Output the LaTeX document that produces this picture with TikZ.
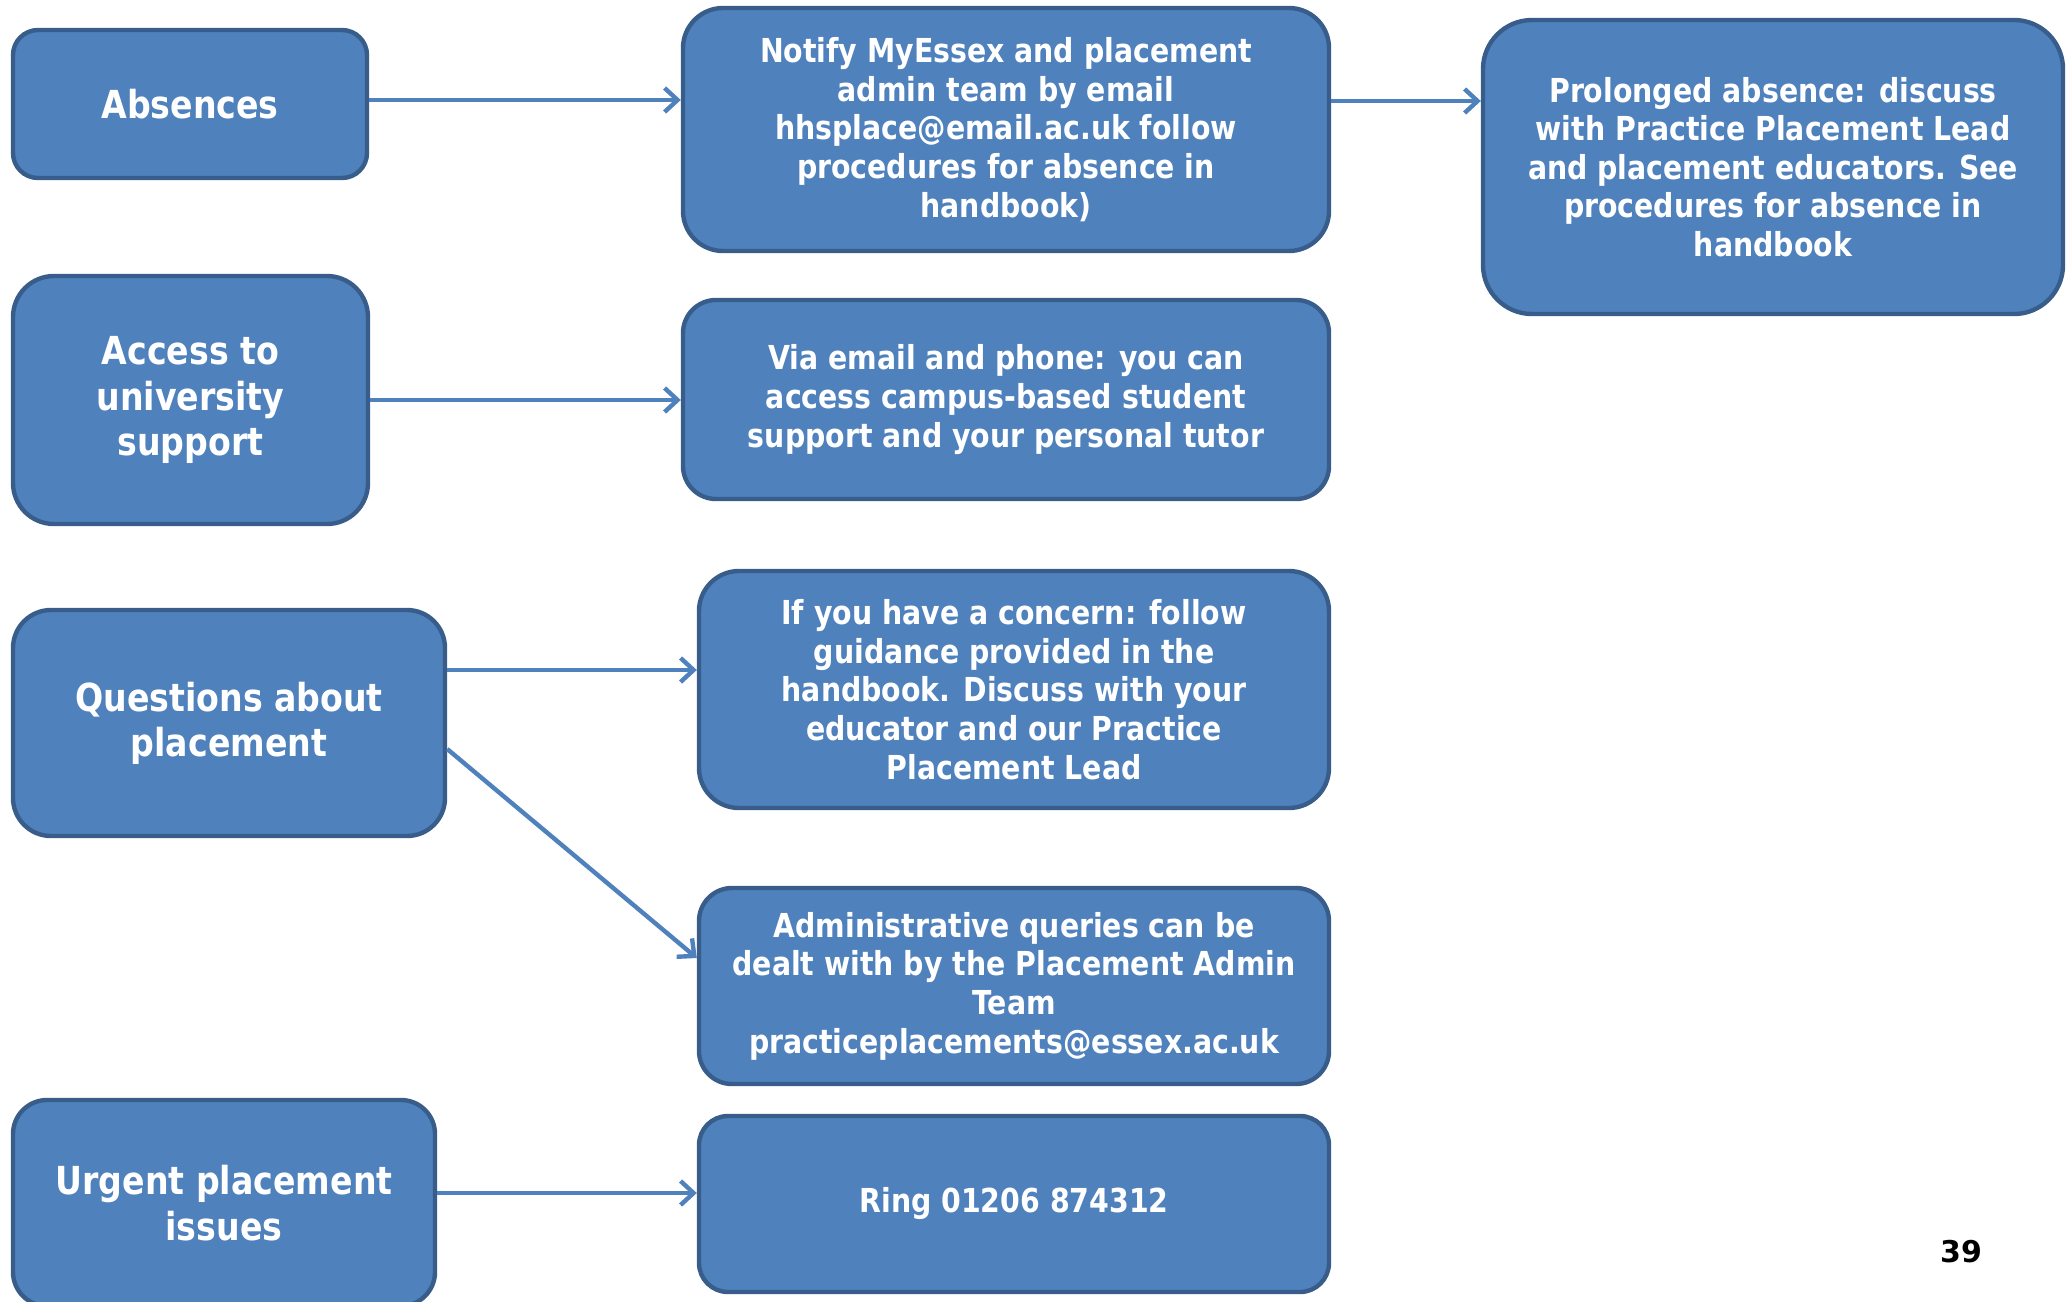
\documentclass[tikz,border=0pt]{standalone}
\usepackage{fontspec}
\setmainfont{DejaVu Sans}[FakeStretch=0.86]
\newfontfamily\pagefont{DejaVu Sans}
\usetikzlibrary{arrows.meta}
\definecolor{boxfill}{HTML}{4F81BD}
\definecolor{boxline}{HTML}{385D8A}
\tikzset{
  infobox/.style={draw=boxline, line width=2.2pt, fill=boxfill, text=white,
    align=center, inner sep=0pt, font=\bfseries\fontsize{16.5}{19.3}\selectfont},
  topicbox/.style={infobox, font=\bfseries\fontsize{19.3}{22.6}\selectfont},
  link/.style={draw=boxfill, line width=2.2pt,
    -{Straight Barb[length=6.5pt,width=12pt,line width=2.2pt]}}
}

\begin{document}
\begin{tikzpicture}[x=0.5pt,y=-0.5pt]
            \useasboundingbox (0,0) rectangle (2071,1301);
            % left column (topics)
            \node (absences) at (190,104) [topicbox, minimum width=177pt, minimum height=74pt, rounded corners=12.5pt]{Absences};
            \node (access) at (190.5,400) [topicbox, minimum width=177.5pt, minimum height=124pt, rounded corners=20.5pt]{Access to\\university\\support};
            \node (questions) at (229,723) [topicbox, minimum width=216pt, minimum height=113pt, rounded corners=19pt]{Questions about\\placement};
            \node (urgent) at (224,1203) [topicbox, minimum width=211pt, minimum height=103pt, rounded corners=17pt]{Urgent placement\\issues};
            
            % middle column (what to do)
            \node (notify) at (1006,129.5) [infobox, minimum width=323pt, minimum height=121.5pt, rounded corners=20pt]{Notify MyEssex and placement\\admin team by email\\hhsplace@email.ac.uk follow\\procedures for absence in\\handbook)};
            \node (via) at (1006,399.5) [infobox, minimum width=323pt, minimum height=99.5pt, rounded corners=16.5pt]{Via email and phone: you can\\access campus-based student\\support and your personal tutor};
            \node (concern) at (1014,689.5) [infobox, minimum width=315pt, minimum height=118.5pt, rounded corners=20pt]{If you have a concern: follow\\guidance provided in the\\handbook. Discuss with your\\educator and our Practice\\Placement Lead};
            \node (admin) at (1014,986) [infobox, minimum width=315pt, minimum height=98pt, rounded corners=16.5pt]{Administrative queries can be\\dealt with by the Placement Admin\\Team\\practiceplacements@essex.ac.uk};
            \node (ring) at (1014,1204) [infobox, minimum width=315pt, minimum height=88pt, rounded corners=14.5pt]{Ring 01206 874312};
            
            % right column
            \node (prolonged) at (1773,167) [infobox, minimum width=290pt, minimum height=147pt, rounded corners=24.5pt]{Prolonged absence: discuss\\with Practice Placement Lead\\and placement educators. See\\procedures for absence in\\handbook};
            
            % arrows
            \draw[link] ([yshift=2pt]absences.east) -- ([yshift=2pt]absences.east -| notify.west);
            \draw[link] ([yshift=1.5pt]notify.east |- absences.east) -- ([yshift=1.5pt]prolonged.west |- absences.east);
            \draw[link] (access.east) -- (access.east -| via.west);
            \draw[link] ([yshift=26.5pt]questions.east) -- ([yshift=26.5pt]questions.east -| concern.west);
            \draw[link] ([yshift=-13pt]questions.east) -- ([yshift=14pt]admin.west);
            \draw[link] ([yshift=5pt]urgent.east) -- ([yshift=5pt]urgent.east -| ring.west);
            
            % page number
            \node (pagenum) at (1961,1252) {\pagefont\bfseries\fontsize{15}{18}\selectfont 39};
\end{tikzpicture}
\end{document}
